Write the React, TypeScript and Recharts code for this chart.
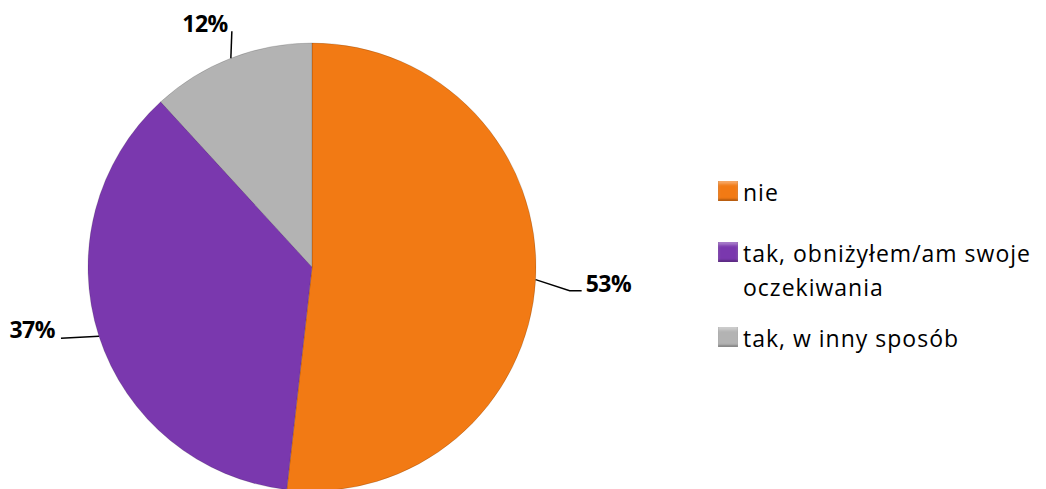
import React from "react";
import { PieChart, Pie, Cell, Legend } from "recharts";

const categories = ["nie", "tak, obniżyłem/am swoje oczekiwania", "tak, w inny sposób"];
const values = [51.8, 36.4, 11.8];
const valueLabels = ["53%", "37%", "12%"];
const colors = ["#F27A14", "#7A38AE", "#B3B3B3"];

const data = categories.map((name, i) => ({ name, value: values[i], label: valueLabels[i] }));

const RAD = Math.PI / 180;
const font = "'Open Sans', Lato, sans-serif";

function renderLabel(props: any) {
  const { cx, cy, midAngle, outerRadius, index } = props;
  const sin = Math.sin(-midAngle * RAD);
  const cos = Math.cos(-midAngle * RAD);
  const sx = cx + outerRadius * cos;
  const sy = cy + outerRadius * sin;
  const text = valueLabels[index];
  let points: string;
  let tx: number;
  let ty: number;
  let anchor: "start" | "end" = "start";
  if (sy < cy - outerRadius * 0.8) {
    // top label: vertical leader
    const ey = sy - 27;
    points = `${sx},${sy} ${sx + 1},${ey}`;
    tx = sx - 3;
    ty = ey + 1;
    anchor = "end";
  } else if (cos > 0) {
    const mx = sx + 34;
    const my = sy + 11;
    points = `${sx},${sy} ${mx},${my} ${mx + 12},${my}`;
    tx = mx + 16;
    ty = my + 1;
  } else {
    const ey = sy + 2;
    points = `${sx},${sy} ${sx - 38},${ey}`;
    tx = sx - 44;
    ty = ey;
    anchor = "end";
  }
  return (
    <g>
      <polyline points={points} fill="none" stroke="#000" strokeWidth={1.5} />
      <text x={tx} y={ty} textAnchor={anchor} fill="#000" fontFamily={font} fontWeight={700} fontSize={23} letterSpacing={-0.5}>
        {text}
      </text>
    </g>
  );
}

function renderLegend() {
  return (
    <div style={{ fontFamily: font, fontSize: 23, color: "#000", lineHeight: "34px", letterSpacing: 1 }}>
      {categories.map((c, i) => (
        <div key={c} style={{ display: "flex", alignItems: "flex-start", marginBottom: i === 0 ? 27 : 17 }}>
          <span
            style={{
              display: "inline-block",
              width: 20,
              height: 20,
              marginTop: 6,
              marginRight: 5,
              flexShrink: 0,
              background: colors[i],
              boxShadow: "inset 0 -2px 2px rgba(0,0,0,0.25), inset 0 3px 3px rgba(255,255,255,0.35)",
            }}
          />
          <span style={{ width: 300 }}>{c}</span>
        </div>
      ))}
    </div>
  );
}

export default function App() {
  return (
    <div style={{ position: "absolute", left: 0, top: 0, background: "#fff" }}>
      <PieChart width={1046} height={489}>
        <Pie
          data={data}
          dataKey="value"
          nameKey="name"
          cx={307}
          cy={262}
          outerRadius={224}
          startAngle={90}
          endAngle={-270}
          stroke="rgba(0,0,0,0.15)"
          strokeWidth={1}
          label={renderLabel}
          labelLine={false}
          isAnimationActive={false}
        >
          {data.map((d, i) => (
            <Cell key={d.name} fill={colors[i]} />
          ))}
        </Pie>
        <Legend
          layout="vertical"
          content={renderLegend}
          wrapperStyle={{ left: 718, top: 175, width: 330 }}
        />
      </PieChart>
    </div>
  );
}
